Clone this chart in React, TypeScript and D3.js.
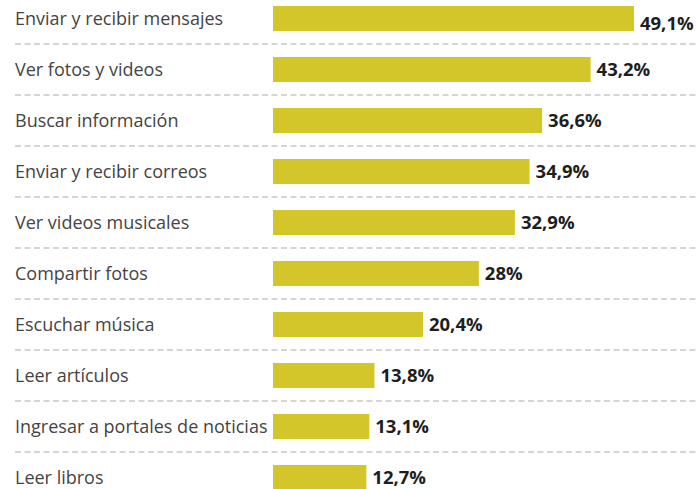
import React from "react";
import * as d3 from "d3";

const categories = [
  "Enviar y recibir mensajes",
  "Ver fotos y videos",
  "Buscar información",
  "Enviar y recibir correos",
  "Ver videos musicales",
  "Compartir fotos",
  "Escuchar música",
  "Leer artículos",
  "Ingresar a portales de noticias",
  "Leer libros",
];
const values = [49.1, 43.2, 36.6, 34.9, 32.9, 28, 20.4, 13.8, 13.1, 12.7];
const valueLabels = ["49,1%", "43,2%", "36,6%", "34,9%", "32,9%", "28%", "20,4%", "13,8%", "13,1%", "12,7%"];

const W = 696;
const H = 489;

export default function App() {
  const x = d3.scaleLinear().domain([0, 50]).range([273, 640.6]);
  const y = d3.scalePoint<string>().domain(categories).range([18.5, 477.5]);
  const barH = 25;
  const step = y.step();

  return (
    <svg
      width={W}
      height={H}
      style={{ position: "absolute", left: 0, top: 0, background: "#fff" }}
    >
      {categories.map((c, i) => {
        const cy = y(c)!;
        return (
          <g key={c}>
            {i < categories.length - 1 && (
              <line
                x1={15}
                x2={W}
                y1={cy + step / 2}
                y2={cy + step / 2}
                stroke="#acacac"
                strokeWidth={1.2}
                strokeDasharray="6 3.5"
              />
            )}
            <text
              x={15}
              y={cy + 6}
              fontFamily="'Open Sans', sans-serif"
              fontSize={18}
              fill="#444"
            >
              {c}
            </text>
            <rect
              x={x(0)}
              y={cy - barH / 2}
              width={x(values[i]) - x(0)}
              height={barH}
              fill="#d3c62b"
            />
            <text
              x={x(values[i]) + 6}
              y={cy + (i === 0 ? 11 : 6.8)}
              fontFamily="'Open Sans', sans-serif"
              fontWeight={700}
              fontSize={18.5}
              fill="#1e1e1e"
            >
              {valueLabels[i]}
            </text>
          </g>
        );
      })}
    </svg>
  );
}
